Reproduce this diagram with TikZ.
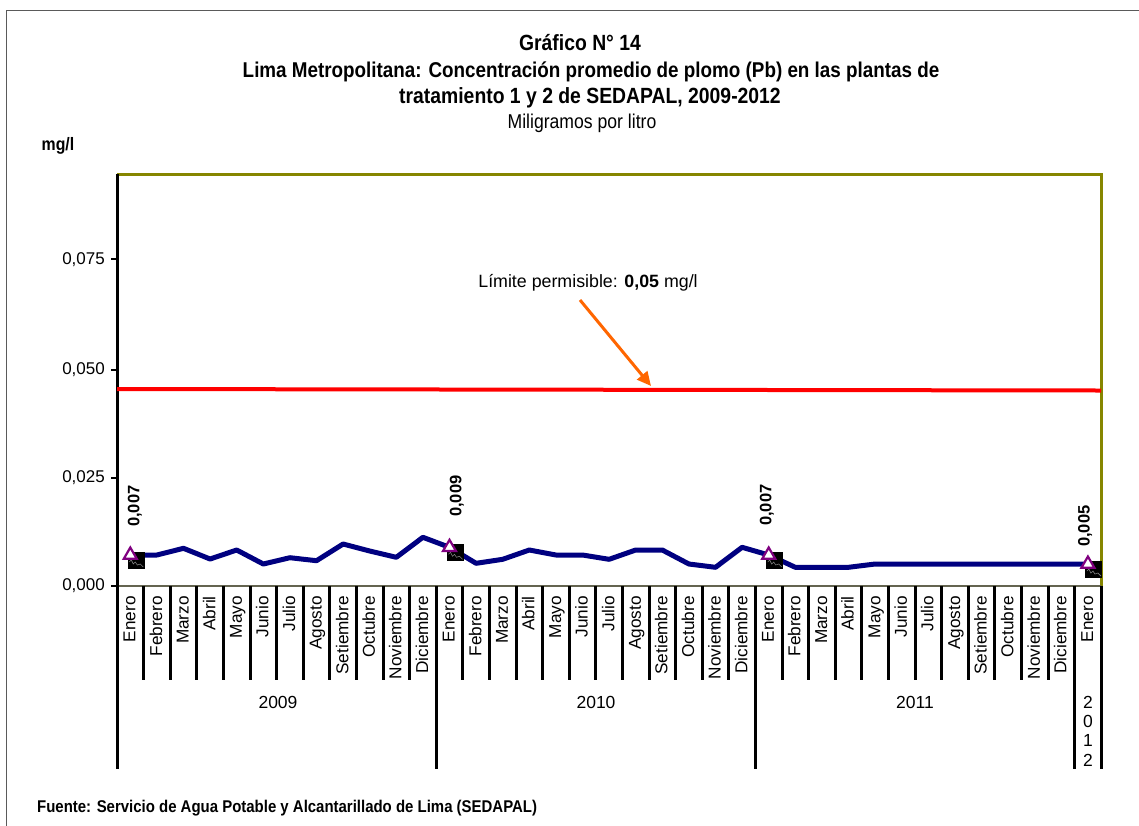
\documentclass[tikz,border=0pt]{standalone}
\usepackage{fontspec}
\setmainfont{Liberation Sans}
\newfontfamily\narrowfont{Liberation Sans}[FakeStretch=0.88]
\usetikzlibrary{arrows.meta,shapes.geometric}
\definecolor{navyline}{RGB}{0,0,128}
\definecolor{olivebd}{RGB}{134,134,0}
\definecolor{axisgray}{RGB}{100,100,80}
\definecolor{purplemk}{RGB}{128,0,128}
\definecolor{orangearr}{RGB}{255,102,0}
\definecolor{framegray}{RGB}{90,90,90}
\definecolor{redlimit}{RGB}{255,0,0}
\tikzset{
  titlebold/.style={inner sep=0, font=\narrowfont\bfseries\fontsize{22}{26}\selectfont},
  titlereg/.style={inner sep=0, font=\narrowfont\fontsize{20}{24}\selectfont},
  footbold/.style={inner sep=0, anchor=west, font=\narrowfont\bfseries\fontsize{17}{20}\selectfont},
  ticklbl/.style={inner sep=0, anchor=east, font=\fontsize{17}{20}\selectfont},
  monthlbl/.style={inner sep=0, rotate=90, anchor=east, text height=12.5pt, text depth=3.6pt, font=\fontsize{17.2}{19}\selectfont},
  yearlbl/.style={inner sep=0, font=\fontsize{17.5}{20}\selectfont},
  vallbl/.style={inner sep=0, rotate=90, anchor=west, font=\bfseries\fontsize{16.5}{18}\selectfont},
  limlbl/.style={inner sep=0, font=\fontsize{17.8}{20}\selectfont},
  dataline/.style={navyline, line width=5, line join=round},
  trimk/.style={regular polygon, regular polygon sides=3, draw=purplemk, fill=white, line width=2.2, minimum size=15, inner sep=0},
  sqmk/.style={fill=black, minimum size=17, inner sep=0},
  sepline/.style={black, line width=3},
  tickline/.style={black, line width=2},
}
\begin{document}
\begin{tikzpicture}[x=1pt,y=-1pt]
\useasboundingbox (0,0) rectangle (1139,825);
\fill[white] (0,0) rectangle (1139,825);
% outer frame (only top and left visible)
\draw[framegray, line width=1.3] (6.5,840) -- (6.5,10.5) -- (1150,10.5);

% titles
\node[titlebold] (t1) at (580,43) {Gráfico N° 14};
\node[titlebold, font=\narrowfont\bfseries\fontsize{21.4}{26}\selectfont] (t2) at (591,72) {Lima Metropolitana: Concentración promedio de plomo (Pb) en las plantas de};
\node[titlebold] (t3) at (590,98) {tratamiento 1 y 2 de SEDAPAL, 2009-2012};
\node[titlereg] (t4) at (582,123) {Miligramos por litro};
\node[titlebold, font=\narrowfont\bfseries\fontsize{18}{20}\selectfont] (unit) at (58,146) {mg/l};

% plot frame
\draw[olivebd, line width=3] (117,174) -- (1101,174) -- (1101,586);
\draw[axisgray, line width=2] (117,586) -- (1101,586);
\draw[black, line width=3] (117,174) -- (117,587);

% y ticks
\foreach \yy in {585.7,477.7,370,259.3}{\draw[tickline] (111,\yy) -- (117,\yy);}
\node[ticklbl] (y0) at (105,585.7) {0,000};
\node[ticklbl] (y1) at (105,477.7) {0,025};
\node[ticklbl] (y2) at (105,370) {0,050};
\node[ticklbl] (y3) at (105,259.3) {0,075};

% limit line
\draw[redlimit, line width=4] (117,389) -- (1101,390.5);
\node[limlbl] (lim) at (588,283) {Límite permisible: \textbf{0,05} mg/l};
\coordinate (arrS) at (580,300);
\coordinate (arrE) at (651,386);
\draw[orangearr, line width=3, -{Triangle[length=14pt,width=13pt]}] (arrS) -- (arrE);

% data
\foreach \yy [count=\i from 0] in {555,555,548.3,559,550,564,557.7,560.7,544,551,557.3,537.3,
  547.3,563.3,559.3,550,555,555,559.3,550,550,564,567.3,547.3,
  555,567.3,567.3,567.3,564,564,564,564,564,564,564,564,
  564}{
  \coordinate (p\i) at ({130.3+26.6*\i},\yy);
}
\draw[dataline] (p0) \foreach \i in {1,...,36}{ -- (p\i)};

% markers
\foreach \i in {0,12,24,36}{
  \node[sqmk, xshift=6pt, yshift=-5pt] (s\i) at (p\i) {};
  \draw[gray, line width=0.6] ([shift={(-7,2)}]s\i.center) -- ([shift={(-5,0)}]s\i.center) -- ([shift={(-3,4)}]s\i.center) -- ([shift={(-1,2)}]s\i.center) -- ([shift={(1,5)}]s\i.center) -- ([shift={(4,4)}]s\i.center) -- ([shift={(7,7)}]s\i.center);
  \node[trimk] (tr\i) at (p\i) {};
}

% value labels
\node[vallbl] (v0) at (135,527) {0,007};
\node[vallbl] (v12) at (457,517) {0,009};
\node[vallbl] (v24) at (767,526) {0,007};
\node[vallbl] (v36) at (1085,547) {0,005};

% category separators
\foreach \k in {1,...,11,13,14,...,23,25,26,...,35}{
  \draw[sepline] ({117+26.6*\k},586) -- ({117+26.6*\k},680);
}
\foreach \k in {0,12,24,36,37}{
  \draw[sepline] ({117+26.6*\k},586) -- ({117+26.6*\k},769);
}

% month labels
\foreach \m [count=\k from 0] in {Enero,Febrero,Marzo,Abril,Mayo,Junio,Julio,Agosto,Setiembre,Octubre,Noviembre,Diciembre,
  Enero,Febrero,Marzo,Abril,Mayo,Junio,Julio,Agosto,Setiembre,Octubre,Noviembre,Diciembre,
  Enero,Febrero,Marzo,Abril,Mayo,Junio,Julio,Agosto,Setiembre,Octubre,Noviembre,Diciembre,
  Enero}{
  \node[monthlbl] (m\k) at ({131+26.6*\k},596) {\m};
}

% year labels
\node[yearlbl] (yr09) at (278,702) {2009};
\node[yearlbl] (yr10) at (596,702) {2010};
\node[yearlbl] (yr11) at (915,702) {2011};
\node[yearlbl, align=center, font=\fontsize{17.5}{19.3}\selectfont] (yr12) at (1088,731) {2\\0\\1\\2};

% footer
\node[footbold] (src) at (37,808) {Fuente: Servicio de Agua Potable y Alcantarillado de Lima (SEDAPAL)};
\end{tikzpicture}
\end{document}
